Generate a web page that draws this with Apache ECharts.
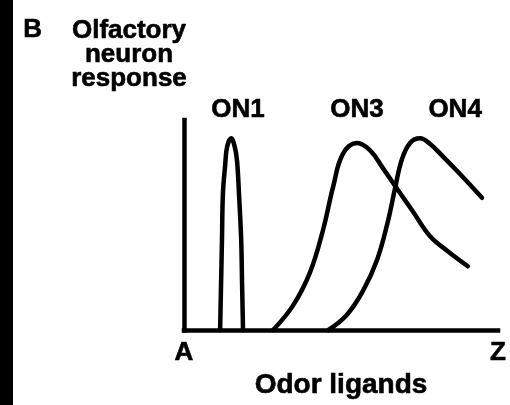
<!DOCTYPE html>
<html>
<head>
<meta charset="utf-8">
<script src="https://cdn.jsdelivr.net/npm/echarts@6/dist/echarts.min.js"></script>
<style>
html, body { margin: 0; padding: 0; background: #fff; }
#chart { width: 510px; height: 405px; }
</style>
</head>
<body>
<div id="chart"></div>
<script>
// Ligands run along the x axis from A to Z (0..100); response is 0..100.
const ligandTicks = ['A', 'Z'];
const neuronNames = ['ON1', 'ON3', 'ON4'];

// Tuning curves of the three olfactory neurons: [ligand position, response]
const on1 = [[11.5, 0], [11.8, 21.7], [12.1, 43.5], [12.4, 65.2], [13.1, 78.3], [13.7, 87.0],
             [15.0, 91.3], [16.2, 87.0], [16.9, 80.4], [17.5, 65.2], [18.2, 43.5], [18.5, 21.7], [18.8, 0]];
const on3 = [[28.3, 0], [34.7, 11.7], [40.1, 27.4], [44.3, 47.8], [47.5, 68.3], [50.6, 83.9],
             [55.1, 89.1], [59.2, 85.7], [63.4, 77.0], [67.8, 67.4], [72.9, 56.5], [78.3, 44.8],
             [83.8, 37.8], [90.4, 30.4]];
const on4 = [[45.9, 0], [51.9, 7.4], [57.0, 18.7], [61.5, 33.5], [65.0, 52.2], [67.2, 67.4],
             [69.4, 81.3], [72.0, 89.1], [75.2, 91.3], [78.3, 88.7], [82.5, 82.6], [87.9, 74.3],
             [94.9, 63.0]];

const curves = [on1, on3, on4];

const FONT = '"Liberation Sans", Arial, Helvetica, sans-serif';
const INK = { color: '#000', fontFamily: FONT, fontWeight: 'bold',
              textBorderColor: '#000', textBorderWidth: 0.6 };
// where each neuron's name sits relative to its peak
const nameShift = [[7, 0], [0, -5], [35, 0]];

const chart = echarts.init(document.getElementById('chart'), null, { renderer: 'canvas' });
chart.setOption({
  backgroundColor: '#fff',
  animation: false,
  grid: { left: 184, right: 12, top: 120, bottom: 55 },
  xAxis: {
    type: 'value', min: 0, max: 100, interval: 100,
    axisLine: { show: true, lineStyle: { color: '#000', width: 4.5, cap: 'square' } },
    axisTick: { show: false },
    splitLine: { show: false },
    axisLabel: Object.assign({ margin: 10, fontSize: 26,
      formatter: v => (v === 0 ? ligandTicks[0] : ligandTicks[1]) }, INK),
    name: 'Odor ligands', nameLocation: 'middle', nameGap: 20,
    nameTextStyle: Object.assign({ fontSize: 28 }, INK)
  },
  yAxis: {
    type: 'value', min: 0, max: 100,
    axisLine: { show: true, lineStyle: { color: '#000', width: 4.5, cap: 'square' } },
    axisTick: { show: false },
    splitLine: { show: false },
    axisLabel: { show: false }
  },
  series: curves.map((pts, k) => ({
    type: 'line',
    name: neuronNames[k],
    data: pts,
    smooth: 0.4,
    showSymbol: false,
    clip: false,
    lineStyle: { color: '#000', width: 4.5, cap: 'round', join: 'round' },
    // the neuron's name sits above its response peak
    markPoint: {
      symbol: 'circle', symbolSize: 1,
      itemStyle: { color: 'rgba(0,0,0,0)' },
      label: Object.assign({
        show: true, position: 'top', distance: 15, offset: nameShift[k],
        formatter: neuronNames[k], fontSize: 26
      }, INK),
      data: [{ type: 'max', valueDim: 'y' }]
    }
  })),
  graphic: [
    { type: 'rect', left: 0, top: 0, shape: { width: 13, height: 405 }, style: { fill: '#000' } },
    { type: 'text', left: 23, top: 17,
      style: { text: 'B', fill: '#000', font: 'bold 26px ' + FONT, stroke: '#000', lineWidth: 0.6 } },
    { type: 'text', x: 129, y: 19,
      style: { text: 'Olfactory\nneuron\nresponse', fill: '#000', font: 'bold 26px ' + FONT,
               stroke: '#000', lineWidth: 0.6,
               align: 'center', verticalAlign: 'top', lineHeight: 24 } }
  ]
});
</script>
</body>
</html>
